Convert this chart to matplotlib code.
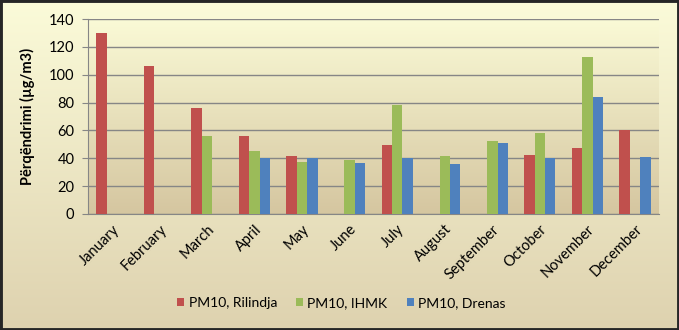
#!/usr/bin/env python3
# -*- coding: utf-8 -*-
"""
PM10 monthly concentrations at three stations, grouped bars.
"""

import numpy as np
import matplotlib
matplotlib.use("Agg")
import matplotlib.pyplot as plt
from matplotlib.colors import LinearSegmentedColormap
from matplotlib.patches import Rectangle

# data
MONTHS = ["January", "February", "March", "April", "May", "June", "July",
          "August", "September", "October", "November", "December"]
RILINDJA = [130, 106, 76, 56, 41.6, np.nan, 49.5, np.nan, np.nan, 42.4, 47.4, 60.3]
IHMK = [np.nan, np.nan, 56, 45.2, 37.3, 38.8, 78.2, 41.6, 52.4, 58.1, 112.7, np.nan]
DRENAS = [np.nan, np.nan, np.nan, 40, 40, 36.6, 40, 35.9, 51, 40.2, 84, 40.9]
SERIES_NAMES = ["PM10, Rilindja", "PM10, IHMK", "PM10, Drenas"]
Y_TICKS = [0, 20, 40, 60, 80, 100, 120, 140]
Y_LABEL = "Përqëndrimi (µg/m3)"

COLORS = ["#C0504D", "#9BBB59", "#4F81BD"]
OUT_PATH = "out.png"


def gradient(ax, top, bottom, **kw):
    cmap = LinearSegmentedColormap.from_list("g", [bottom, top])
    grad = np.linspace(0, 1, 256).reshape(-1, 1)
    ax.imshow(grad, aspect="auto", cmap=cmap, origin="lower",
              extent=(0, 1, 0, 1), **kw)


def main():
    plt.rcParams["font.family"] = ["Lato", "DejaVu Sans"]
    fig = plt.figure(figsize=(6.79, 3.30), dpi=100)

    # chart area background
    bg = fig.add_axes([0, 0, 1, 1], zorder=0)
    gradient(bg, "#FBFBD9", "#DED2AF")
    bg.set_xlim(0, 1); bg.set_ylim(0, 1)
    bg.axis("off")
    bg.add_patch(Rectangle((0, 0), 1, 1, transform=bg.transAxes, fill=False,
                           edgecolor="#262626", lw=3.5))

    ax = fig.add_axes([0.130, 0.352, 0.840, 0.590], zorder=1)
    ax.patch.set_visible(False)
    gradient(ax, "#FAFAD6", "#D5C6A0", transform=ax.transAxes, zorder=-5)

    x = np.arange(len(MONTHS))
    w = 0.22
    for i, (vals, name) in enumerate(zip([RILINDJA, IHMK, DRENAS], SERIES_NAMES)):
        ax.bar(x + (i - 1) * w, vals, width=w, color=COLORS[i], label=name, zorder=3)

    ax.set_xlim(-0.5, len(MONTHS) - 0.5)
    ax.set_ylim(0, 140)
    ax.set_yticks(Y_TICKS)
    ax.yaxis.grid(True, color="#868686", lw=1, zorder=1)
    ax.set_axisbelow(True)
    ax.set_xticks(x)
    ax.set_xticklabels(MONTHS, rotation=45, ha="right", rotation_mode="anchor",
                       fontsize=10.5)
    ax.tick_params(axis="x", length=0, pad=6)
    ax.tick_params(axis="y", length=4, color="#868686", labelsize=10.5, pad=6)
    for s in ["top", "right"]:
        ax.spines[s].set_visible(False)
    ax.spines["left"].set_color("#868686")
    ax.spines["bottom"].set_color("#868686")
    ax.set_ylabel(Y_LABEL, fontsize=10.5, fontweight="bold", labelpad=10)

    fig.legend(loc="center", bbox_to_anchor=(0.503, 0.082), ncol=3, frameon=False,
               fontsize=10, handlelength=0.5, handleheight=0.5,
               handletextpad=0.3, columnspacing=1.4)

    fig.savefig(OUT_PATH, dpi=100)
    print(f"saved {OUT_PATH}")


if __name__ == "__main__":
    main()
